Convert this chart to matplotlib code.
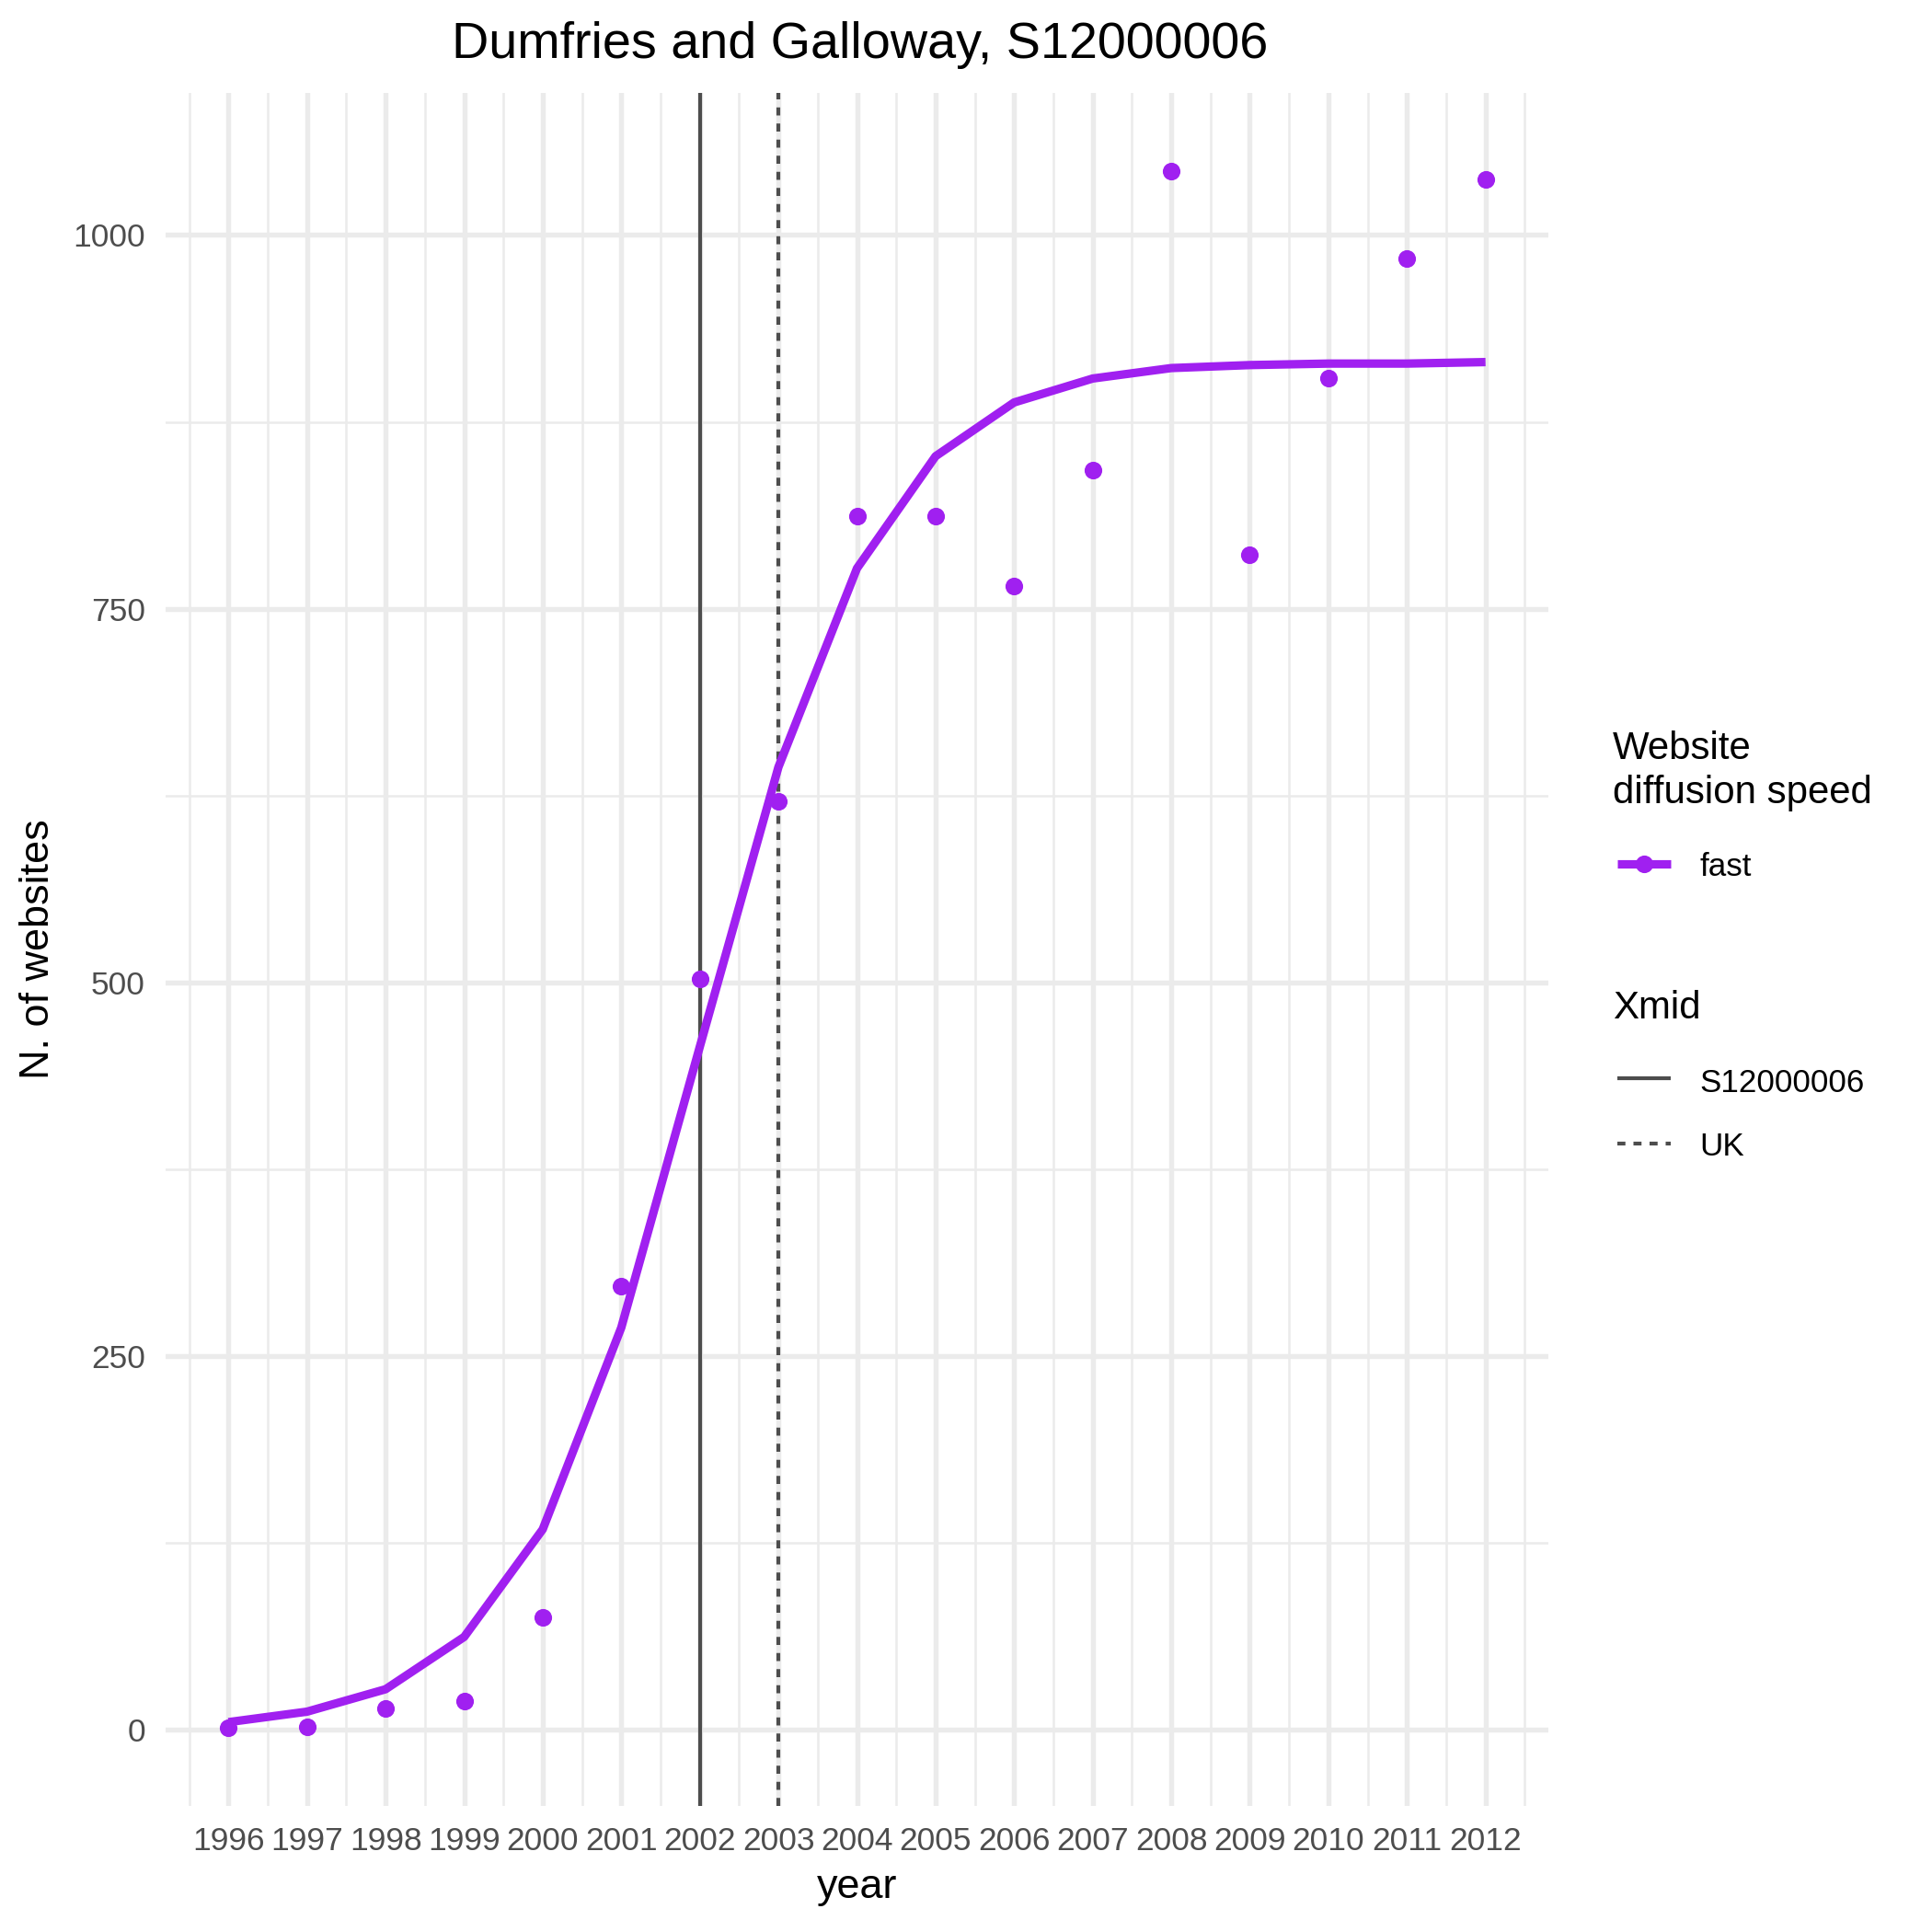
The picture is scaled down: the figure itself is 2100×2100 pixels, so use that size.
import numpy as np
import matplotlib
matplotlib.use('Agg')
import matplotlib.pyplot as plt
from matplotlib.lines import Line2D

# data
years = list(range(1996, 2013))
websites = [1, 2, 14, 19, 75, 297, 502, 621, 812, 812, 765, 843, 1043, 786, 904, 984, 1037]
fitted = [5, 12, 27, 62, 134, 269, 457, 644, 777, 852, 888, 904, 911, 913, 914, 914, 915]
xmid_region = 2002
xmid_uk = 2003
region = 'Dumfries and Galloway'
code = 'S12000006'
speed_label = 'fast'

purple = '#A020F0'
grey = '#4D4D4D'
gridc = '#EBEBEB'
dash = (0, (2.1, 2.1))

plt.rcParams['font.family'] = ['Liberation Sans', 'DejaVu Sans']

W = 2100


def fx(px):
    return px / W


def fy(py):
    return 1 - py / W


fig = plt.figure(figsize=(7, 7), dpi=300)
ax = fig.add_axes([fx(180), fy(1963), (1683 - 180) / W, (1963 - 101) / W])

ax.axvline(xmid_region, color=grey, lw=1.0, zorder=2)
ax.axvline(xmid_uk, color=grey, lw=1.0, ls=dash, zorder=2)
ax.scatter(years, websites, s=4.6 ** 2, color=purple, linewidths=0, zorder=3)
ax.plot(years, fitted, color=purple, lw=2.2, solid_capstyle='butt', zorder=4)

# ggplot-like 5% expansion
lo, hi = min(websites), max(websites)
ax.set_ylim(lo - 0.05 * (hi - lo), hi + 0.05 * (hi - lo))
ax.set_xlim(years[0] - 0.05 * (years[-1] - years[0]), years[-1] + 0.05 * (years[-1] - years[0]))

ax.set_xticks(years)
ax.set_xticks(np.arange(years[0] - 0.5, years[-1] + 1, 1), minor=True)
ax.set_yticks([0, 250, 500, 750, 1000])
ax.set_yticks([125, 375, 625, 875], minor=True)
ax.grid(which='major', color=gridc, lw=1.3)
ax.grid(which='minor', color=gridc, lw=0.6)
ax.set_axisbelow(True)
ax.tick_params(which='both', length=0, pad=5.3, labelsize=8.5, labelcolor=grey)
for s in ax.spines.values():
    s.set_visible(False)

fig.text(fx(935), fy(63), f'{region}, {code}', ha='center', va='baseline', fontsize=13.4)
fig.text(fx(932), fy(2063), 'year', ha='center', va='baseline', fontsize=10.8)
fig.text(fx(53), fy(1032), 'N. of websites', rotation=90, rotation_mode='anchor',
         ha='center', va='baseline', fontsize=10.8)

# legends
fig.text(fx(1753), fy(825), 'Website', va='baseline', fontsize=10.1)
fig.text(fx(1753), fy(873), 'diffusion speed', va='baseline', fontsize=10.1)
fig.add_artist(Line2D([fx(1758), fx(1816)], [fy(939)] * 2, transform=fig.transFigure,
                      color=purple, lw=2.2, solid_capstyle='butt'))
fig.add_artist(Line2D([fx(1787)], [fy(939)], transform=fig.transFigure,
                      color=purple, marker='o', ms=4.6, mew=0))
fig.text(fx(1847), fy(952), speed_label, va='baseline', fontsize=8.4)

fig.text(fx(1753), fy(1107), 'Xmid', va='baseline', fontsize=10.1)
fig.add_artist(Line2D([fx(1758), fx(1816)], [fy(1172)] * 2, transform=fig.transFigure,
                      color=grey, lw=1.0, solid_capstyle='butt'))
fig.text(fx(1847), fy(1187), code, va='baseline', fontsize=8.4)
fig.add_artist(Line2D([fx(1758), fx(1816)], [fy(1243)] * 2, transform=fig.transFigure,
                      color=grey, lw=1.0, ls=dash, dash_capstyle='butt'))
fig.text(fx(1847), fy(1256), 'UK', va='baseline', fontsize=8.4)

fig.savefig('out.png', dpi=300, facecolor='white')
